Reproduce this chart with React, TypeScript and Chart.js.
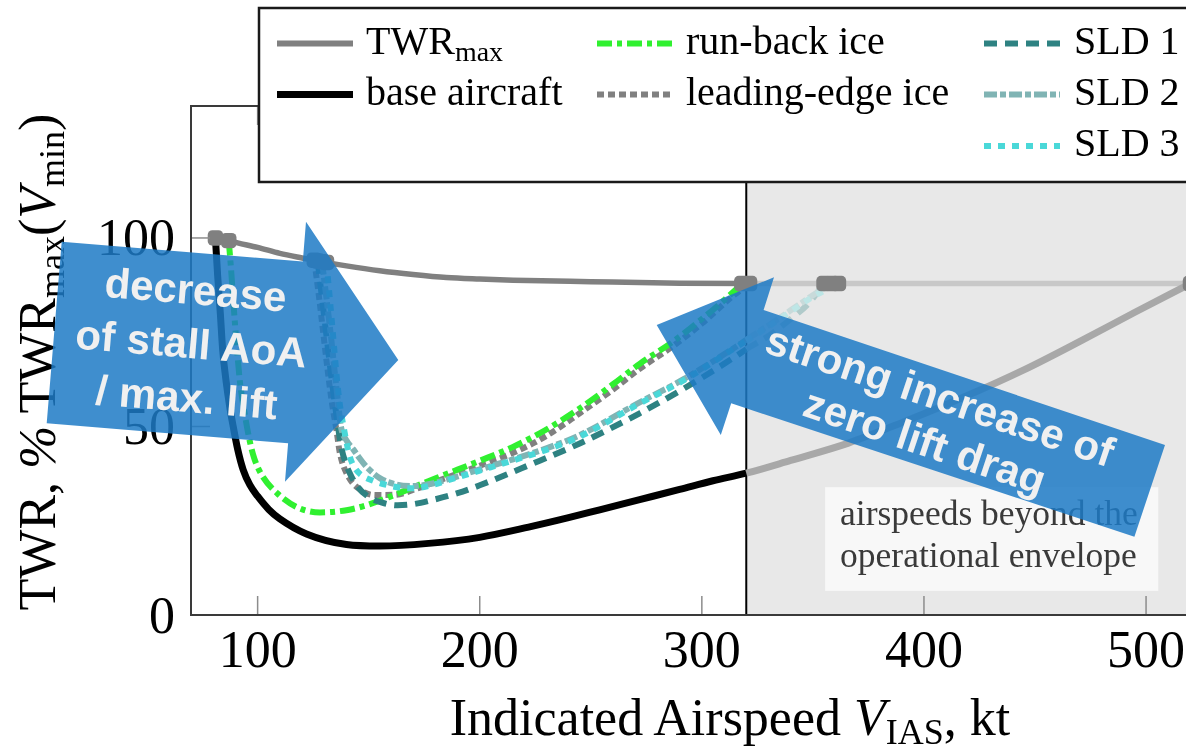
import React, { useEffect, useRef } from 'react';
import { Chart, registerables } from 'chart.js';

Chart.register(...registerables);

// ---------- data ----------
const X_MIN = 70;
const X_MAX = 554;
const Y_MIN = 0;
const Y_MAX = 135;
const X_TICKS = [100, 200, 300, 400, 500];
const Y_TICKS = [0, 50, 100];
const ENVELOPE_LIMIT = 320;

const twrMaxX = [81, 87, 91, 100, 110, 120, 130, 140, 155, 170, 185, 200, 215, 250, 290, 320, 360, 400, 450, 520];
const twrMaxY = [100, 99.3, 98.7, 97.5, 95.9, 94.7, 93.6, 92.6, 91.3, 90.3, 89.5, 89.1, 88.8, 88.4, 88.0, 87.9, 87.9, 87.9, 87.9, 87.9];

const baseX = [81, 82, 83.2, 84.3, 85.8, 87.5, 89, 91, 93.5, 96.5, 100, 105, 110, 122, 140, 155, 177, 200, 222, 240, 254, 272, 290, 305, 320, 340, 366, 390, 418, 445, 470, 495, 520];
const baseY = [100, 90, 80, 70, 62, 55, 50, 44, 38.5, 34.5, 31.5, 28, 25.5, 21.5, 18.7, 18.3, 19, 20.6, 23.3, 25.8, 27.9, 30.6, 33.3, 35.6, 37.6, 41, 45.6, 51, 57.8, 65, 72.5, 80.3, 87.9];

const runBackX = [87, 88, 89.2, 90.5, 92, 94, 96.5, 98.5, 102, 108.8, 117.7, 128, 140, 149, 161, 173, 185, 200, 215, 230, 245, 260, 272, 287, 300, 314, 318];
const runBackY = [99.3, 92, 82, 72, 62, 54, 46, 41.5, 37, 32.3, 28.6, 27.2, 27.8, 29.1, 31.7, 34.6, 37.4, 40.9, 44.6, 49.2, 54.8, 61.2, 66.6, 72.5, 78.5, 85.6, 87.9];

const leadingEdgeX = [125.5, 127.5, 129.5, 131.5, 133.5, 135.5, 137, 140, 146, 153, 162, 172, 185, 200, 215, 230, 245, 260, 272, 287, 300, 314, 321.5];
const leadingEdgeY = [94.1, 85, 75, 65, 56, 49, 43, 37.6, 33.3, 31.8, 31.9, 33.6, 36.4, 39.6, 43, 47.5, 53.5, 59.8, 65.3, 71.3, 77.3, 84.6, 87.9];

const sld1X = [127, 129, 131, 133, 135, 137.5, 139.5, 142, 145, 150, 156, 163, 170, 178, 190, 200, 222, 245, 272, 292, 315, 320, 330, 340, 348, 355];
const sld1Y = [93.9, 84, 74, 64, 55, 45, 40.5, 37, 34, 31.3, 29.8, 29.1, 29.4, 30.4, 32.3, 34.4, 39.7, 45.5, 53.5, 60.1, 68.5, 70.5, 74, 78.5, 82.6, 87.9];

const sld2X = [129, 131, 133, 134.8, 136.3, 137.5, 140, 143, 146, 149, 155, 162.6, 170, 178, 185, 200, 215, 230, 245, 272, 292, 317, 320, 330, 340, 350, 358.5];
const sld2Y = [93.7, 84, 74, 64, 56, 50, 46.3, 44, 41.5, 39.3, 36.3, 34.6, 34.2, 34.8, 35.9, 38.6, 41.3, 44.2, 47.7, 56.4, 62.6, 71.8, 73, 76.8, 80.8, 84.8, 87.9];

const sld3X = [131, 132.5, 134, 135.5, 137, 139, 141.5, 144, 147, 152, 158, 163, 170, 178, 185, 200, 215, 230, 245, 272, 292, 317, 320, 330, 340, 350, 361.5];
const sld3Y = [93.5, 84, 74, 64, 56, 49, 42, 38.8, 37, 35.6, 34.5, 33.9, 33.6, 34.4, 35.6, 38.3, 41, 43.8, 47.3, 56.1, 62.3, 71.6, 72.7, 76.5, 80.5, 84.4, 87.9];

const NOTE_LINES = ['airspeeds beyond the', 'operational envelope'];
const NOTE_BOX_X = [355.5, 505.5];
const NOTE_BOX_Y = [6.4, 33.9];

// ---------- layout ----------
const W = 1275;
const H = 747;
const VIEW_W = 1186;
const AREA = { left: 191, top: 106, right: 1269, bottom: 615 };

const pts = (xs: number[], ys: number[]) => xs.map((x, i) => ({ x, y: ys[i] }));

type Series = {
  label: string;
  xs: number[];
  ys: number[];
  color: string;
  faded: string;
  width: number;
  dash: number[];
  marker: boolean;
};

const SERIES: Series[] = [
  { label: 'TWRmax', xs: twrMaxX, ys: twrMaxY, color: '#808080', faded: '#c8c8c8', width: 5.5, dash: [], marker: false },
  { label: 'base aircraft', xs: baseX, ys: baseY, color: '#000000', faded: '#a8a8a8', width: 7, dash: [], marker: true },
  { label: 'leading-edge ice', xs: leadingEdgeX, ys: leadingEdgeY, color: '#808080', faded: '#c0c0c0', width: 6, dash: [7, 4], marker: true },
  { label: 'run-back ice', xs: runBackX, ys: runBackY, color: '#30f030', faded: '#b0e8b0', width: 6, dash: [15, 5, 5, 5], marker: true },
  { label: 'SLD 1', xs: sld1X, ys: sld1Y, color: '#2e8282', faded: '#b0caca', width: 6, dash: [13, 8], marker: true },
  { label: 'SLD 2', xs: sld2X, ys: sld2Y, color: '#80b4b4', faded: '#c8dada', width: 6, dash: [13, 3, 6, 3], marker: true },
  { label: 'SLD 3', xs: sld3X, ys: sld3Y, color: '#4ad8d8', faded: '#bde6e6', width: 6, dash: [7, 7], marker: true },
];

const decorPlugin = {
  id: 'decor',
  beforeDatasetsDraw(chart: any) {
    const { ctx, chartArea: a, scales } = chart;
    const xs = scales.x;
    const ys = scales.y;
    ctx.save();
    const xe = xs.getPixelForValue(ENVELOPE_LIMIT);
    ctx.fillStyle = '#e8e8e8';
    ctx.fillRect(xe, a.top, a.right - xe, a.bottom - a.top);
    const bx0 = xs.getPixelForValue(NOTE_BOX_X[0]);
    const bx1 = xs.getPixelForValue(NOTE_BOX_X[1]);
    const by0 = ys.getPixelForValue(NOTE_BOX_Y[1]);
    const by1 = ys.getPixelForValue(NOTE_BOX_Y[0]);
    ctx.fillStyle = '#f8f8f8';
    ctx.fillRect(bx0, by0, bx1 - bx0, by1 - by0);
    ctx.fillStyle = '#3a3a3a';
    ctx.font = '35.5px "Liberation Serif"';
    ctx.textAlign = 'left';
    ctx.textBaseline = 'alphabetic';
    ctx.fillText(NOTE_LINES[0], bx0 + 15, by0 + 38);
    ctx.fillText(NOTE_LINES[1], bx0 + 15, by0 + 80);
    ctx.strokeStyle = '#000';
    ctx.lineWidth = 2;
    ctx.beginPath();
    ctx.moveTo(xe, a.top);
    ctx.lineTo(xe, a.bottom);
    ctx.stroke();
    ctx.restore();
  },
  afterDraw(chart: any) {
    const { ctx, chartArea: a, scales } = chart;
    const xs = scales.x;
    const ys = scales.y;
    ctx.save();
    ctx.strokeStyle = '#8c8c8c';
    ctx.lineWidth = 1.5;
    const seg = (x0: number, y0: number, x1: number, y1: number) => {
      ctx.beginPath();
      ctx.moveTo(x0, y0);
      ctx.lineTo(x1, y1);
      ctx.stroke();
    };
    X_TICKS.forEach((v) => {
      const px = xs.getPixelForValue(v);
      seg(px, a.bottom, px, a.bottom - 19);
      seg(px, a.top, px, a.top + 19);
    });
    Y_TICKS.forEach((v) => {
      const py = ys.getPixelForValue(v);
      seg(a.left, py, a.left + 19, py);
      seg(a.right, py, a.right - 19, py);
    });
    ctx.strokeStyle = '#3a3a3a';
    ctx.lineWidth = 2;
    ctx.strokeRect(a.left, a.top, a.right - a.left, a.bottom - a.top);
    ctx.fillStyle = '#000';
    ctx.font = '52px "Liberation Serif"';
    ctx.textBaseline = 'alphabetic';
    ctx.textAlign = 'center';
    X_TICKS.forEach((v) => ctx.fillText(String(v), xs.getPixelForValue(v), a.bottom + 52));
    ctx.textAlign = 'right';
    Y_TICKS.forEach((v) => ctx.fillText(String(v), a.left - 16, ys.getPixelForValue(v) + 17.5));
    ctx.restore();
  },
};

const LEGEND_ITEMS = [
  { idx: 0, col: 0, row: 0 },
  { idx: 1, col: 0, row: 1 },
  { idx: 3, col: 1, row: 0 },
  { idx: 2, col: 1, row: 1 },
  { idx: 4, col: 2, row: 0 },
  { idx: 5, col: 2, row: 1 },
  { idx: 6, col: 2, row: 2 },
];
const LEG_SAMPLE_X = [277, 597, 984];
const LEG_TEXT_X = [366, 686, 1074];
const LEG_BASE_Y = [53.5, 104.5, 156];

const serif = '"Liberation Serif", "Times New Roman", serif';
const sans = '"Liberation Sans", Arial, sans-serif';

function LegendLabel({ label }: { label: string }) {
  if (label === 'TWRmax') {
    return (
      <>
        {'TWR'}
        <tspan fontSize={28} dy={7}>max</tspan>
      </>
    );
  }
  return <>{label}</>;
}

export default function App() {
  const canvasRef = useRef<HTMLCanvasElement | null>(null);

  useEffect(() => {
    if (!canvasRef.current) return;
    const lines = SERIES.map((s, i) => ({
      label: s.label,
      data: pts(s.xs, s.ys),
      borderColor: s.color,
      borderWidth: s.width,
      borderDash: s.dash,
      borderCapStyle: 'butt',
      pointRadius: 0,
      fill: false,
      cubicInterpolationMode: 'monotone',
      order: 10 - i,
      segment: {
        borderColor: (c: any) => (c.p0.parsed.x >= ENVELOPE_LIMIT - 0.01 ? s.faded : undefined),
      },
    }));
    const markerPts = SERIES.filter((s) => s.marker).flatMap((s) => [
      { x: s.xs[0], y: s.ys[0] },
      { x: s.xs[s.xs.length - 1], y: s.ys[s.ys.length - 1] },
    ]);
    const markers = {
      label: 'markers',
      data: markerPts,
      showLine: false,
      pointStyle: 'rectRounded',
      pointRadius: 9,
      pointBackgroundColor: '#808080',
      pointBorderWidth: 0,
      borderColor: '#808080',
      order: 0,
    };
    const chart = new Chart(canvasRef.current, {
      type: 'line',
      data: { datasets: [markers, ...lines] as any },
      options: {
        animation: false,
        responsive: false,
        maintainAspectRatio: false,
        devicePixelRatio: 1,
        layout: { padding: { left: 0, top: AREA.top, right: W - AREA.right, bottom: 0 } },
        plugins: { legend: { display: false }, tooltip: { enabled: false } },
        scales: {
          x: {
            type: 'linear',
            min: X_MIN,
            max: X_MAX,
            grid: { display: false },
            border: { display: false },
            ticks: { display: false },
            afterFit: (s: any) => {
              s.height = H - AREA.bottom;
            },
          },
          y: {
            type: 'linear',
            min: Y_MIN,
            max: Y_MAX,
            grid: { display: false },
            border: { display: false },
            ticks: { display: false },
            afterFit: (s: any) => {
              s.width = AREA.left;
            },
          },
        },
      } as any,
      plugins: [decorPlugin],
    });
    return () => chart.destroy();
  }, []);

  return (
    <div style={{ position: 'absolute', left: 0, top: 0, width: VIEW_W, height: H, overflow: 'hidden', background: '#fff' }}>
      <canvas ref={canvasRef} width={W} height={H} style={{ position: 'absolute', left: 0, top: 0, width: W, height: H }} />
      <svg width={W} height={H} style={{ position: 'absolute', left: 0, top: 0 }}>
        {/* legend */}
        <rect x={259} y={8} width={1000} height={174} fill="#ffffff" stroke="#1a1a1a" strokeWidth={2.5} />
        {LEGEND_ITEMS.map((it) => {
          const s = SERIES[it.idx];
          const by = LEG_BASE_Y[it.row];
          const sx = LEG_SAMPLE_X[it.col];
          return (
            <g key={s.label}>
              <line
                x1={sx}
                x2={sx + 76}
                y1={by - 10}
                y2={by - 10}
                stroke={s.color}
                strokeWidth={it.idx === 1 ? 7 : 6}
                strokeDasharray={s.dash.length ? s.dash.join(' ') : undefined}
              />
              <text x={LEG_TEXT_X[it.col]} y={by} fontFamily={serif} fontSize={40} fill="#000">
                <LegendLabel label={s.label} />
              </text>
            </g>
          );
        })}
        {/* axis titles */}
        <text x={730} y={735} textAnchor="middle" fontFamily={serif} fontSize={52} fill="#000">
          {'Indicated Airspeed '}
          <tspan fontStyle="italic">V</tspan>
          <tspan fontSize={36} dy={9}>IAS</tspan>
          <tspan dy={-9}>{', kt'}</tspan>
        </text>
        <text transform="translate(55,362) rotate(-90)" textAnchor="middle" fontFamily={serif} fontSize={52} fill="#000">
          {'TWR, '}
          <tspan fontStyle="italic">%</tspan>
          {' TWR'}
          <tspan fontSize={36} dy={9}>max</tspan>
          <tspan dy={-9}>(</tspan>
          <tspan fontStyle="italic">V</tspan>
          <tspan fontSize={36} dy={9}>min</tspan>
          <tspan dy={-9}>)</tspan>
        </text>
        {/* annotation arrows */}
        <polygon
          points="61.7,241.7 302.8,261.6 306,221.7 398.3,360 285,481.7 288.1,443.2 46.7,423.3"
          fill="rgba(29,122,198,0.85)"
        />
        <g transform="translate(190,358) rotate(4.7)" fontFamily={sans} fontWeight="bold" fontSize={42} fill="#f0f0f0" textAnchor="middle">
          <text x={0} y={-54}>decrease</text>
          <text x={0} y={0}>of stall AoA</text>
          <text x={0} y={54}>/ max. lift</text>
        </g>
        <polygon
          points="656.7,325 774,277.3 763.6,310 1165,445 1134.4,536.7 731.2,403.3 720.8,435"
          fill="rgba(29,122,198,0.85)"
        />
        <g transform="translate(932,420) rotate(18.5)" fontFamily={sans} fontWeight="bold" fontSize={42} fill="#f0f0f0" textAnchor="middle">
          <text x={0} y={-11}>strong increase of</text>
          <text x={0} y={37}>zero lift drag</text>
        </g>
      </svg>
    </div>
  );
}
